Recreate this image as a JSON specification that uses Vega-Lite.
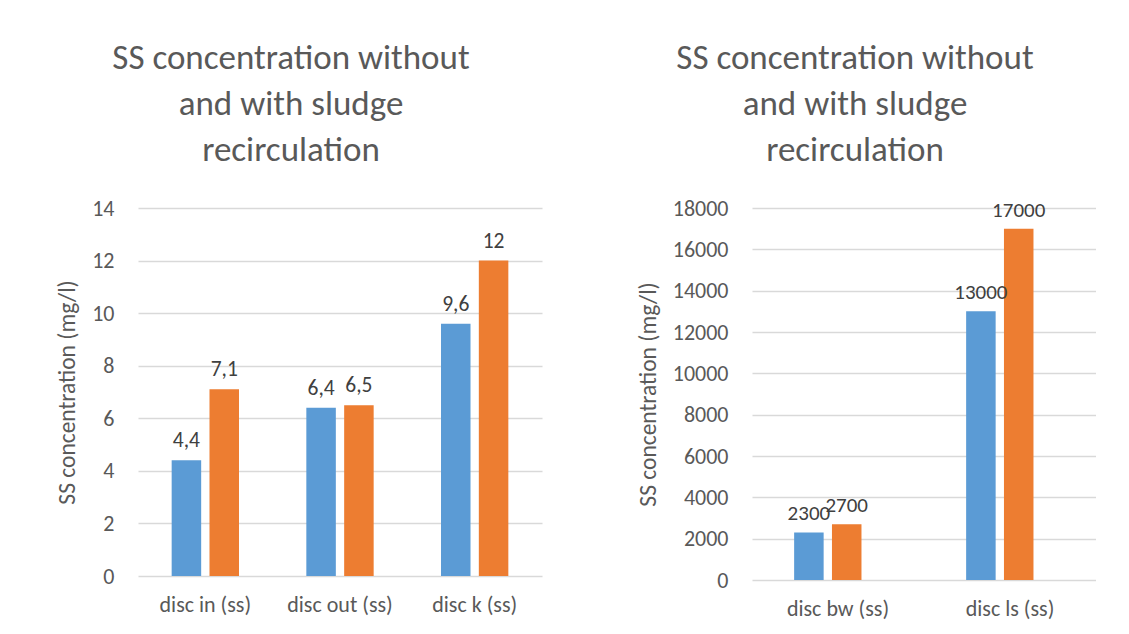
{
  "$schema": "https://vega.github.io/schema/vega-lite/v6.json",
  "background": "white",
  "padding": {"left": 55, "top": 41, "right": 0, "bottom": 12},
  "config": {
    "font": "Carlito, Lato, sans-serif",
    "locale": {"number": {"decimal": ",", "thousands": "", "grouping": [3], "currency": ["", ""]}},
    "view": {"stroke": null},
    "title": {"fontSize": 35, "fontWeight": "normal", "color": "#595959", "lineHeight": 46, "anchor": "middle", "offset": 29},
    "axis": {"domain": false, "ticks": false, "labelColor": "#595959", "labelFontSize": 22, "titleColor": "#595959", "titleFontSize": 23.5, "titleFontWeight": "normal", "gridColor": "#D9D9D9", "gridWidth": 1.5},
    "axisX": {"labelAngle": 0, "labelPadding": 18, "grid": false, "title": null},
    "axisY": {"labelPadding": 24, "titlePadding": 12}
  },
  "hconcat": [
    {
      "title": {"text": ["SS concentration without", "and with sludge", "recirculation"], "dx": -49},
      "width": 404,
      "height": 368,
      "data": {"values": [
        {"stage": "disc in (ss)", "mode": "without", "ss": 4.4},
        {"stage": "disc in (ss)", "mode": "with", "ss": 7.1},
        {"stage": "disc out (ss)", "mode": "without", "ss": 6.4},
        {"stage": "disc out (ss)", "mode": "with", "ss": 6.5},
        {"stage": "disc k (ss)", "mode": "without", "ss": 9.6},
        {"stage": "disc k (ss)", "mode": "with", "ss": 12}
      ]},
      "encoding": {
        "x": {"field": "stage", "type": "nominal", "sort": null, "scale": {"paddingInner": 0.5, "paddingOuter": 0.25}},
        "xOffset": {"field": "mode", "type": "nominal", "sort": ["without", "with"], "scale": {"paddingInner": 0.22, "paddingOuter": 0}},
        "y": {"field": "ss", "type": "quantitative", "scale": {"domain": [0, 14], "nice": false}, "axis": {"values": [0, 2, 4, 6, 8, 10, 12, 14], "title": "SS concentration (mg/l)"}}
      },
      "layer": [
        {
          "mark": {"type": "bar"},
          "encoding": {
            "color": {"field": "mode", "type": "nominal", "legend": null, "scale": {"domain": ["without", "with"], "range": ["#5B9BD5", "#ED7D31"]}}
          }
        },
        {
          "mark": {"type": "text", "baseline": "bottom", "dy": -8, "fontSize": 21.5, "color": "#404040"},
          "encoding": {"text": {"field": "ss", "type": "quantitative", "format": ".2~f"}}
        }
      ]
    },
    {
      "title": {"text": ["SS concentration without", "and with sludge", "recirculation"], "dx": -69},
      "width": 344,
      "height": 372,
      "data": {"values": [
        {"stage": "disc bw (ss)", "mode": "without", "ss": 2300},
        {"stage": "disc bw (ss)", "mode": "with", "ss": 2700},
        {"stage": "disc ls (ss)", "mode": "without", "ss": 13000},
        {"stage": "disc ls (ss)", "mode": "with", "ss": 17000}
      ]},
      "encoding": {
        "x": {"field": "stage", "type": "nominal", "sort": null, "scale": {"paddingInner": 0.49, "paddingOuter": 0.245}},
        "xOffset": {"field": "mode", "type": "nominal", "sort": ["without", "with"], "scale": {"paddingInner": 0.22, "paddingOuter": 0}},
        "y": {"field": "ss", "type": "quantitative", "scale": {"domain": [0, 18000], "nice": false}, "axis": {"values": [0, 2000, 4000, 6000, 8000, 10000, 12000, 14000, 16000, 18000], "format": "d", "title": "SS concentration (mg/l)"}}
      },
      "layer": [
        {
          "mark": {"type": "bar"},
          "encoding": {
            "color": {"field": "mode", "type": "nominal", "legend": null, "scale": {"domain": ["without", "with"], "range": ["#5B9BD5", "#ED7D31"]}}
          }
        },
        {
          "mark": {"type": "text", "baseline": "bottom", "dy": -8, "fontSize": 21, "color": "#404040"},
          "encoding": {"text": {"field": "ss", "type": "quantitative", "format": "d"}}
        }
      ]
    }
  ],
  "spacing": 94,
  "resolve": {"scale": {"color": "independent"}}
}
